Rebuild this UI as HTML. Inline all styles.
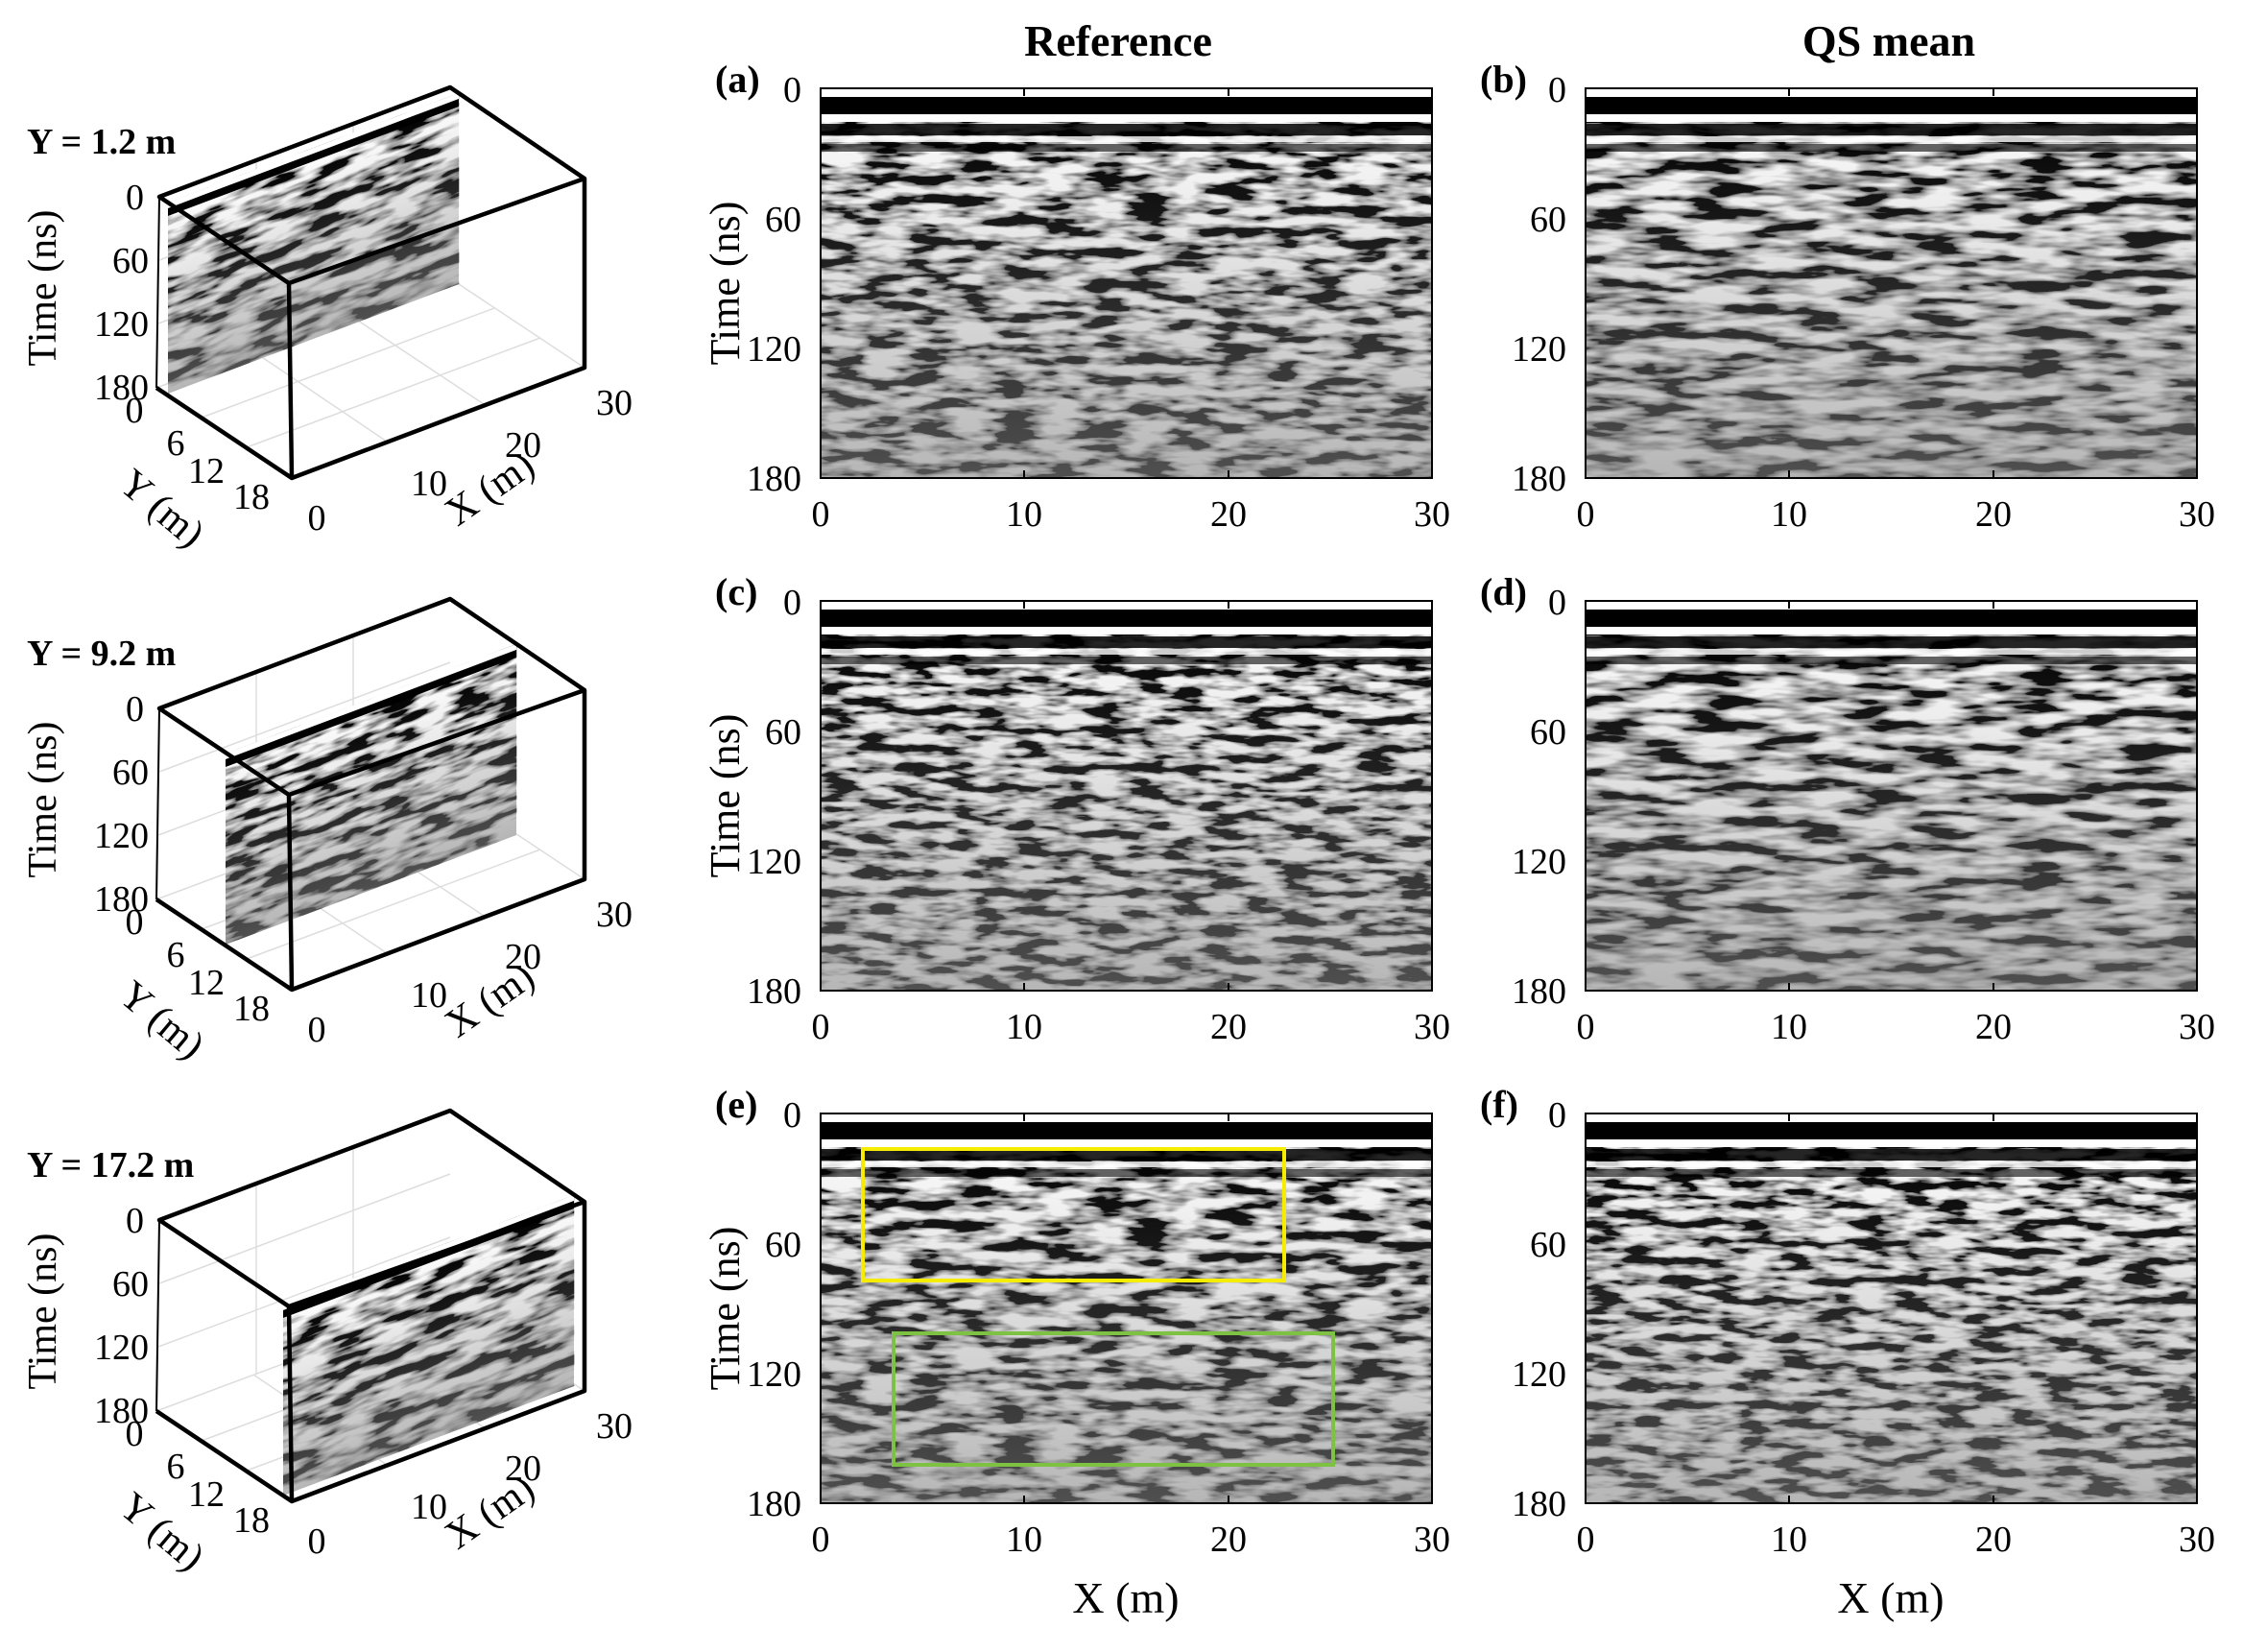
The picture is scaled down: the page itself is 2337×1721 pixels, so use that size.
<!DOCTYPE html>
<html><head><meta charset="utf-8"><style>
html,body{margin:0;padding:0;background:#fff}
svg{display:block;font-family:"Liberation Serif",serif}
</style></head><body>
<svg width="2337" height="1721" viewBox="0 0 2337 1721" xmlns="http://www.w3.org/2000/svg">
<defs>
<filter id="n1" x="0" y="0" width="100%" height="100%"><feTurbulence type="fractalNoise" baseFrequency="0.022 0.09" numOctaves="3" seed="3"/><feGaussianBlur stdDeviation="1.2 0"/><feColorMatrix type="matrix" values="4 0 0 0 -1.55  4 0 0 0 -1.55  4 0 0 0 -1.55  0 0 0 0 1"/></filter>
<filter id="n2" x="0" y="0" width="100%" height="100%"><feTurbulence type="fractalNoise" baseFrequency="0.018 0.08" numOctaves="3" seed="11"/><feGaussianBlur stdDeviation="1.5 0"/><feColorMatrix type="matrix" values="3.5 0 0 0 -1.3  3.5 0 0 0 -1.3  3.5 0 0 0 -1.3  0 0 0 0 1"/></filter>
<filter id="n3" x="0" y="0" width="100%" height="100%"><feTurbulence type="fractalNoise" baseFrequency="0.025 0.1" numOctaves="3" seed="23"/><feGaussianBlur stdDeviation="1 0"/><feColorMatrix type="matrix" values="4 0 0 0 -1.55  4 0 0 0 -1.55  4 0 0 0 -1.55  0 0 0 0 1"/></filter>
<linearGradient id="fade" x1="0" y1="0" x2="0" y2="1">
<stop offset="0" stop-color="#858585" stop-opacity="0"/>
<stop offset="0.3" stop-color="#858585" stop-opacity="0.15"/>
<stop offset="1" stop-color="#858585" stop-opacity="0.6"/>
</linearGradient>
<g id="bands">
<rect x="0" y="0" width="637" height="406" fill="url(#fade)"/>
<rect x="0" y="0" width="637" height="9" fill="#fff"/>
<rect x="0" y="9" width="637" height="18" fill="#000"/>
<rect x="0" y="27" width="637" height="8" fill="#fff"/>
<rect x="0" y="37" width="637" height="12" fill="#000" opacity="0.85"/>
<rect x="0" y="50" width="637" height="6" fill="#fff" opacity="0.8"/>
<rect x="0" y="58" width="637" height="8" fill="#000" opacity="0.6"/>
</g>
<g id="frame">
<rect x="0" y="0" width="637" height="406" fill="none" stroke="#000" stroke-width="2"/>
<path d="M212 0v8M425 0v8M212 406v-8M425 406v-8" stroke="#000" stroke-width="2"/>
</g>
<g id="axes2d" font-size="38" fill="#000">
<text x="-20" y="14" text-anchor="end">0</text>
<text x="-20" y="149" text-anchor="end">60</text>
<text x="-20" y="284" text-anchor="end">120</text>
<text x="-20" y="419" text-anchor="end">180</text>
<text x="0" y="456" text-anchor="middle">0</text>
<text x="212" y="456" text-anchor="middle">10</text>
<text x="425" y="456" text-anchor="middle">20</text>
<text x="637" y="456" text-anchor="middle">30</text>
</g>
</defs>

<text x="1165" y="58" font-size="46" font-weight="bold" text-anchor="middle">Reference</text>
<text x="1968" y="58" font-size="46" font-weight="bold" text-anchor="middle">QS mean</text>

<g transform="translate(855,92)">
<rect width="637" height="406" fill="#808080" filter="url(#n1)"/><use href="#bands"/><use href="#frame"/><use href="#axes2d"/>
<text x="-110" y="4" font-size="40" font-weight="bold">(a)</text>
<text transform="translate(-85,203) rotate(-90)" font-size="44" text-anchor="middle">Time (ns)</text>
</g>
<g transform="translate(1652,92)">
<rect width="637" height="406" fill="#808080" filter="url(#n2)"/><use href="#bands"/><use href="#frame"/><use href="#axes2d"/>
<text x="-110" y="4" font-size="40" font-weight="bold">(b)</text>
</g>
<g transform="translate(855,626)">
<rect width="637" height="406" fill="#808080" filter="url(#n3)"/><use href="#bands"/><use href="#frame"/><use href="#axes2d"/>
<text x="-110" y="4" font-size="40" font-weight="bold">(c)</text>
<text transform="translate(-85,203) rotate(-90)" font-size="44" text-anchor="middle">Time (ns)</text>
</g>
<g transform="translate(1652,626)">
<rect width="637" height="406" fill="#808080" filter="url(#n2)"/><use href="#bands"/><use href="#frame"/><use href="#axes2d"/>
<text x="-110" y="4" font-size="40" font-weight="bold">(d)</text>
</g>
<g transform="translate(855,1160)">
<rect width="637" height="406" fill="#808080" filter="url(#n1)"/><use href="#bands"/><use href="#frame"/><use href="#axes2d"/>
<text x="-110" y="4" font-size="40" font-weight="bold">(e)</text>
<text transform="translate(-85,203) rotate(-90)" font-size="44" text-anchor="middle">Time (ns)</text>
<rect x="44" y="37" width="439" height="137" fill="none" stroke="#f5ec00" stroke-width="4"/>
<rect x="76" y="229" width="458" height="137" fill="none" stroke="#7dc242" stroke-width="4"/>
<text x="318" y="520" font-size="46" text-anchor="middle">X (m)</text>
</g>
<g transform="translate(1652,1160)">
<rect width="637" height="406" fill="#808080" filter="url(#n3)"/><use href="#bands"/><use href="#frame"/><use href="#axes2d"/>
<text x="-110" y="4" font-size="40" font-weight="bold">(f)</text>
<text x="318" y="520" font-size="46" text-anchor="middle">X (m)</text>
</g>

<g>
<path d="M166 205L469 91L469 290L163 404Z" fill="#fff"/>
<g stroke="#ddd" stroke-width="1.5" fill="none">
<path d="M166 271L469 157M165 337L469 223M267 167L267 366M368 129L368 328"/>
<path d="M163 404L469 290L609 383M210 435L515 321M257 466L563 352M264 366L406 462M364 328L507 423"/>
</g>
<g transform="matrix(1,-0.3762,0,1,175,211)"><rect width="303" height="199" fill="#808080" filter="url(#n1)"/><rect width="303" height="199" fill="url(#fade)"/><rect width="303" height="6" fill="#fff"/><rect y="6" width="303" height="8" fill="#000"/></g>
<g stroke="#000" fill="none" stroke-linejoin="round">
<path d="M166 205L163 404" stroke-width="2"/>
<path d="M166 205L469 91L609 186L301 295Z M301 295L304 498M163 404L304 498L609 383L609 186" stroke-width="4.5"/>
</g>
<g font-size="38">
<text x="150" y="218" text-anchor="end">0</text>
<text x="155" y="284" text-anchor="end">60</text>
<text x="155" y="350" text-anchor="end">120</text>
<text x="155" y="416" text-anchor="end">180</text>
<text x="140" y="440" text-anchor="middle">0</text>
<text x="183" y="474" text-anchor="middle">6</text>
<text x="215" y="503" text-anchor="middle">12</text>
<text x="262" y="530" text-anchor="middle">18</text>
<text x="330" y="552" text-anchor="middle">0</text>
<text x="447" y="516" text-anchor="middle">10</text>
<text x="545" y="476" text-anchor="middle">20</text>
<text x="640" y="432" text-anchor="middle">30</text>
</g>
<text transform="translate(58,300) rotate(-90)" font-size="42" text-anchor="middle">Time (ns)</text>
<text transform="translate(160,540) rotate(40)" font-size="42" text-anchor="middle">Y (m)</text>
<text transform="translate(518,520) rotate(-35)" font-size="42" text-anchor="middle">X (m)</text>
</g>
<text x="28" y="160" font-size="38" font-weight="bold">Y = 1.2 m</text>

<g transform="translate(0,533)">
<path d="M166 205L469 91L469 290L163 404Z" fill="#fff"/>
<g stroke="#ddd" stroke-width="1.5" fill="none">
<path d="M166 271L469 157M165 337L469 223M267 167L267 366M368 129L368 328"/>
<path d="M163 404L469 290L609 383M210 435L515 321M257 466L563 352M264 366L406 462M364 328L507 423"/>
</g>
<g transform="matrix(1,-0.3762,0,1,235,252)"><rect width="303" height="199" fill="#808080" filter="url(#n3)"/><rect width="303" height="199" fill="url(#fade)"/><rect width="303" height="6" fill="#fff"/><rect y="6" width="303" height="8" fill="#000"/></g>
<g stroke="#000" fill="none" stroke-linejoin="round">
<path d="M166 205L163 404" stroke-width="2"/>
<path d="M166 205L469 91L609 186L301 295Z M301 295L304 498M163 404L304 498L609 383L609 186" stroke-width="4.5"/>
</g>
<g font-size="38">
<text x="150" y="218" text-anchor="end">0</text>
<text x="155" y="284" text-anchor="end">60</text>
<text x="155" y="350" text-anchor="end">120</text>
<text x="155" y="416" text-anchor="end">180</text>
<text x="140" y="440" text-anchor="middle">0</text>
<text x="183" y="474" text-anchor="middle">6</text>
<text x="215" y="503" text-anchor="middle">12</text>
<text x="262" y="530" text-anchor="middle">18</text>
<text x="330" y="552" text-anchor="middle">0</text>
<text x="447" y="516" text-anchor="middle">10</text>
<text x="545" y="476" text-anchor="middle">20</text>
<text x="640" y="432" text-anchor="middle">30</text>
</g>
<text transform="translate(58,300) rotate(-90)" font-size="42" text-anchor="middle">Time (ns)</text>
<text transform="translate(160,540) rotate(40)" font-size="42" text-anchor="middle">Y (m)</text>
<text transform="translate(518,520) rotate(-35)" font-size="42" text-anchor="middle">X (m)</text>
<text x="28" y="160" font-size="38" font-weight="bold">Y = 9.2 m</text>
</g>

<g transform="translate(0,1066)">
<path d="M166 205L469 91L469 290L163 404Z" fill="#fff"/>
<g stroke="#ddd" stroke-width="1.5" fill="none">
<path d="M166 271L469 157M165 337L469 223M267 167L267 366M368 129L368 328"/>
<path d="M163 404L469 290L609 383M210 435L515 321M257 466L563 352M264 366L406 462M364 328L507 423"/>
</g>
<g transform="matrix(1,-0.3762,0,1,295,293)"><rect width="303" height="199" fill="#808080" filter="url(#n1)"/><rect width="303" height="199" fill="url(#fade)"/><rect width="303" height="6" fill="#fff"/><rect y="6" width="303" height="8" fill="#000"/></g>
<g stroke="#000" fill="none" stroke-linejoin="round">
<path d="M166 205L163 404" stroke-width="2"/>
<path d="M166 205L469 91L609 186L301 295Z M301 295L304 498M163 404L304 498L609 383L609 186" stroke-width="4.5"/>
</g>
<g font-size="38">
<text x="150" y="218" text-anchor="end">0</text>
<text x="155" y="284" text-anchor="end">60</text>
<text x="155" y="350" text-anchor="end">120</text>
<text x="155" y="416" text-anchor="end">180</text>
<text x="140" y="440" text-anchor="middle">0</text>
<text x="183" y="474" text-anchor="middle">6</text>
<text x="215" y="503" text-anchor="middle">12</text>
<text x="262" y="530" text-anchor="middle">18</text>
<text x="330" y="552" text-anchor="middle">0</text>
<text x="447" y="516" text-anchor="middle">10</text>
<text x="545" y="476" text-anchor="middle">20</text>
<text x="640" y="432" text-anchor="middle">30</text>
</g>
<text transform="translate(58,300) rotate(-90)" font-size="42" text-anchor="middle">Time (ns)</text>
<text transform="translate(160,540) rotate(40)" font-size="42" text-anchor="middle">Y (m)</text>
<text transform="translate(518,520) rotate(-35)" font-size="42" text-anchor="middle">X (m)</text>
<text x="28" y="160" font-size="38" font-weight="bold">Y = 17.2 m</text>
</g>
</svg>
</body></html>
